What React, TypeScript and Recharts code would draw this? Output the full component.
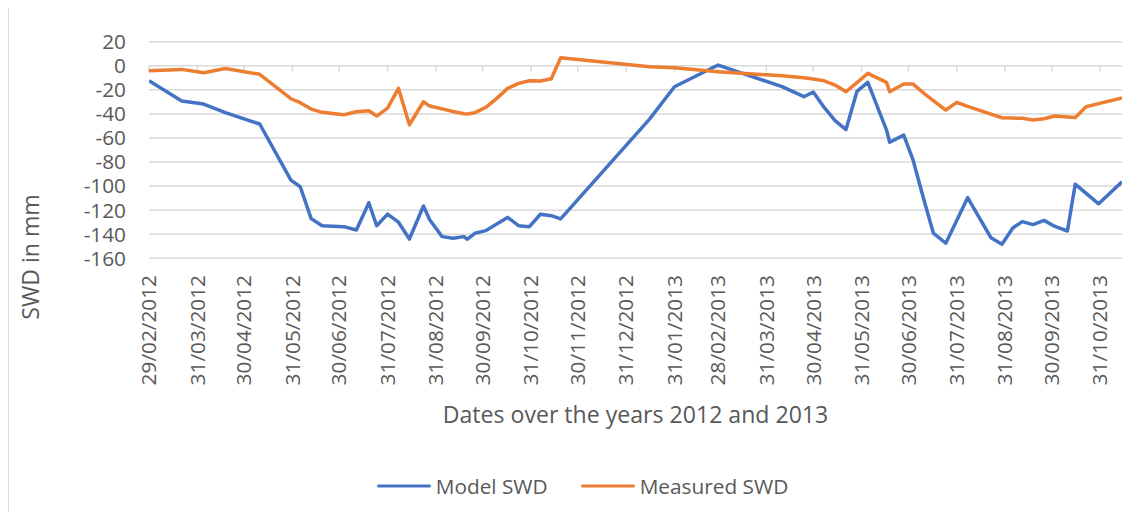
import React from 'react';
import { LineChart, Line, XAxis, YAxis, CartesianGrid, Legend, ReferenceLine, Label } from 'recharts';

// ---------- data ----------
const dates: string[] = [
  '29/02/2012', '21/03/2012', '04/04/2012', '18/04/2012', '10/05/2012', '30/05/2012',
  '05/06/2012', '12/06/2012', '19/06/2012', '03/07/2012', '11/07/2012', '19/07/2012',
  '24/07/2012', '31/07/2012', '07/08/2012', '14/08/2012', '23/08/2012', '27/08/2012',
  '04/09/2012', '11/09/2012', '18/09/2012', '20/09/2012', '25/09/2012', '02/10/2012',
  '09/10/2012', '16/10/2012', '23/10/2012', '30/10/2012', '06/11/2012', '13/11/2012',
  '19/11/2012', '15/01/2013', '31/01/2013', '28/02/2013', '10/04/2013', '24/04/2013',
  '30/04/2013', '07/05/2013', '14/05/2013', '21/05/2013', '28/05/2013', '04/06/2013',
  '16/06/2013', '18/06/2013', '27/06/2013', '03/07/2013', '10/07/2013', '16/07/2013',
  '24/07/2013', '31/07/2013', '07/08/2013', '22/08/2013', '29/08/2013', '05/09/2013',
  '11/09/2013', '18/09/2013', '25/09/2013', '02/10/2013', '10/10/2013', '15/10/2013',
  '22/10/2013', '30/10/2013', '14/11/2013',
];

const modelSWD: (number | null)[] = [
  -12.5, -29.3, -31.8, -39.0, -48.4, -95.0,
  -100.5, -127.0, -133.0, -133.7, -136.5, -113.8,
  -132.9, -123.3, -130.0, -144.0, -116.5, -128.0,
  -142.0, -143.4, -142.0, -144.2, -139.2, -137.0,
  -131.5, -126.0, -132.9, -133.7, -123.4, -124.6,
  -127.3, -44.3, -17.4, 0.6, -17.4, -25.7,
  -21.8, -34.6, -45.6, -53.0, -21.3, -13.8,
  -53.4, -63.6, -57.6, -78.3, -111.5, -139.0,
  -147.5, null, -109.6, -143.0, -148.3, -134.8,
  -129.5, -132.0, -128.5, -133.5, -137.3, -98.4,
  null, -114.7, -96.5,
];

const measuredSWD: (number | null)[] = [
  -4.1, -3.0, -5.8, -2.2, -7.1, -27.4,
  -30.7, -36.0, -38.7, -40.7, -38.2, -37.4,
  -41.8, -35.2, -18.8, -49.0, -29.9, -33.5,
  -35.8, -38.0, -39.8, -40.0, -39.0, -34.6,
  -27.1, -18.8, -14.6, -12.4, -12.7, -10.8,
  6.6, -0.8, -1.6, -5.0, -8.3, -10.0,
  -11.0, -12.5, -16.0, -21.6, -14.0, -6.3,
  -13.8, -21.6, -15.2, -15.2, -23.0, -29.0,
  -36.8, -30.4, -33.7, -40.2, -43.2, -43.5,
  -43.7, -45.0, -44.0, -41.8, -42.5, -42.9,
  -34.0, -31.5, -26.8,
];

const xTickLabels: string[] = [
  '29/02/2012', '31/03/2012', '30/04/2012', '31/05/2012', '30/06/2012', '31/07/2012',
  '31/08/2012', '30/09/2012', '31/10/2012', '30/11/2012', '31/12/2012', '31/01/2013',
  '28/02/2013', '31/03/2013', '30/04/2013', '31/05/2013', '30/06/2013', '31/07/2013',
  '31/08/2013', '30/09/2013', '31/10/2013',
];

const yTicks: number[] = [20, 0, -20, -40, -60, -80, -100, -120, -140, -160];
const yDomain: [number, number] = [-160, 20];
const xDomainDates: [string, string] = ['29/02/2012', '14/11/2013'];

const seriesOrder: string[] = ['Model SWD', 'Measured SWD'];
const xTitle = 'Dates over the years 2012 and 2013';
const yTitle = 'SWD in mm';

// ---------- helpers ----------
const toTs = (s: string): number => {
  const [d, m, y] = s.split('/').map(Number);
  return Date.UTC(y, m - 1, d);
};

const data = dates.map((d, i) => ({ t: toTs(d), model: modelSWD[i], measured: measuredSWD[i] }));
const xTickTs = xTickLabels.map(toTs);
const labelByTs = new Map<number, string>(xTickTs.map((t, i) => [t, xTickLabels[i]]));
const xDomain: [number, number] = [toTs(xDomainDates[0]), toTs(xDomainDates[1])];

const FONT = '"Open Sans", sans-serif';
const TEXT = '#595959';
const GRID = '#d9d9d9';
const BLUE = '#4472C4';
const ORANGE = '#ED7D31';
const TICK_FS = 20.8;
const TITLE_FS = 23.1;

const XTick = (props: any) => {
  const { x, y, payload } = props;
  return (
    <text
      x={x}
      y={y}
      transform={`rotate(-90, ${x}, ${y})`}
      textAnchor="end"
      dy="0.35em"
      fontSize={TICK_FS}
      fontFamily={FONT}
      fill={TEXT}
    >
      {labelByTs.get(payload.value)}
    </text>
  );
};

const XTitle = (props: any) => {
  const vb = props.viewBox || { x: 0, y: 0, width: 0 };
  return (
    <text
      x={vb.x + vb.width / 2}
      y={vb.y + 165}
      textAnchor="middle"
      fontSize={TITLE_FS}
      fontFamily={FONT}
      fill={TEXT}
    >
      {xTitle}
    </text>
  );
};

const YTitle = () => {
  const cx = 23;
  const cy = 249;
  return (
    <text
      x={cx}
      y={cy}
      transform={`rotate(-90, ${cx}, ${cy})`}
      textAnchor="middle"
      dy="0.35em"
      fontSize={TITLE_FS}
      fontFamily={FONT}
      fill={TEXT}
    >
      {yTitle}
    </text>
  );
};

const LegendContent = (props: any) => {
  const payload = [...(props.payload || [])].sort(
    (a: any, b: any) => seriesOrder.indexOf(a.value) - seriesOrder.indexOf(b.value)
  );
  return (
    <div
      style={{
        display: 'flex',
        alignItems: 'center',
        height: 30,
        paddingLeft: 368.7,
        fontFamily: FONT,
        fontSize: TICK_FS,
        color: TEXT,
        whiteSpace: 'nowrap',
      }}
    >
      {payload.map((p: any, i: number) => (
        <div key={i} style={{ display: 'flex', alignItems: 'center', marginRight: 33 }}>
          <svg width={54} height={6} style={{ display: 'block' }}>
            <line x1={1.5} y1={3} x2={52.5} y2={3} stroke={p.color} strokeWidth={3} strokeLinecap="round" />
          </svg>
          <span style={{ marginLeft: 5, lineHeight: '30px' }}>{p.value}</span>
        </div>
      ))}
    </div>
  );
};

export default function App() {
  return (
    <div style={{ position: 'relative', width: 1133, height: 504 }}>
      <div
        style={{
          position: 'absolute',
          left: 0,
          top: 0,
          bottom: 0,
          width: 0,
          borderLeft: `1px solid ${GRID}`,
        }}
      />
      <LineChart
        width={1133}
        height={504}
        data={data}
        margin={{ top: 33.7, right: 19, bottom: 103.7, left: 0 }}
      >
        <CartesianGrid vertical={false} stroke={GRID} strokeWidth={1.5} />
        <XAxis
          dataKey="t"
          type="number"
          domain={xDomain}
          ticks={xTickTs}
          interval={0}
          tick={<XTick />}
          tickLine={false}
          axisLine={false}
          tickSize={0}
          tickMargin={16.7}
          height={120}
          allowDataOverflow
        >
          <Label content={<XTitle />} />
        </XAxis>
        <YAxis
          type="number"
          domain={yDomain}
          ticks={yTicks}
          interval={0}
          width={141}
          tickLine={false}
          axisLine={false}
          tickSize={0}
          tickMargin={23}
          tick={{ fontSize: TICK_FS, fontFamily: FONT, fill: TEXT }}
        >
          <Label content={<YTitle />} />
        </YAxis>
        {xTickTs.map((t) => (
          <ReferenceLine
            key={t}
            segment={[{ x: t, y: 0 }, { x: t, y: -5 }]}
            stroke={GRID}
            strokeWidth={1.5}
          />
        ))}
        <Line
          type="linear"
          dataKey="model"
          name={seriesOrder[0]}
          stroke={BLUE}
          strokeWidth={3.5}
          strokeLinejoin="round"
          dot={false}
          activeDot={false}
          connectNulls
          isAnimationActive={false}
        />
        <Line
          type="linear"
          dataKey="measured"
          name={seriesOrder[1]}
          stroke={ORANGE}
          strokeWidth={3.5}
          strokeLinejoin="round"
          dot={false}
          activeDot={false}
          connectNulls
          isAnimationActive={false}
        />
        <Legend
          verticalAlign="bottom"
          content={<LegendContent />}
          wrapperStyle={{ position: 'absolute', left: 0, bottom: 11.3, width: 1133, height: 30 }}
        />
      </LineChart>
    </div>
  );
}
